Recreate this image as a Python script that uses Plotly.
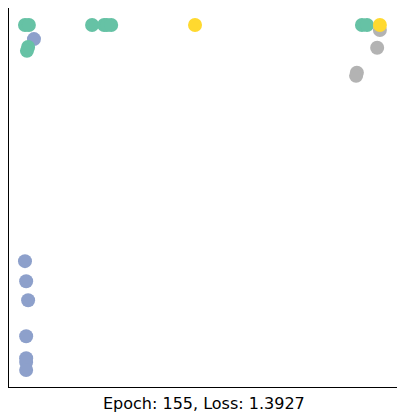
import plotly.graph_objects as go

# node embeddings (axis units 0..1)
teal_x = [0.041, 0.051, 0.049, 0.046, 0.213, 0.244, 0.251, 0.262, 0.905, 0.918]
teal_y = [0.955, 0.955, 0.897, 0.887, 0.955, 0.955, 0.955, 0.955, 0.955, 0.955]
blue_x = [0.064, 0.041, 0.044, 0.049, 0.044, 0.044, 0.044, 0.044]
blue_y = [0.918, 0.332, 0.279, 0.229, 0.134, 0.076, 0.066, 0.045]
yellow_x = [0.477, 0.951]
yellow_y = [0.955, 0.955]
gray_x = [0.951, 0.944, 0.892, 0.890]
gray_y = [0.942, 0.895, 0.829, 0.821]

groups = [
    (blue_x, blue_y, "#8da0cb"),
    (teal_x, teal_y, "#66c2a5"),
    (gray_x, gray_y, "#b3b3b3"),
    (yellow_x, yellow_y, "#ffd92f"),
]

fig = go.Figure()
for xs, ys, color in groups:
    fig.add_trace(go.Scatter(x=xs, y=ys, mode="markers",
                             marker=dict(size=14, color=color, line=dict(width=0))))

fig.update_xaxes(range=[0, 1], showticklabels=False, showgrid=False, zeroline=False,
                 showline=True, linecolor="black", linewidth=1, mirror=True, ticks="")
fig.update_yaxes(range=[0, 1], showticklabels=False, showgrid=False, zeroline=False,
                 showline=True, linecolor="black", linewidth=1, mirror=True, ticks="")

fig.add_annotation(text="Epoch: 155, Loss: 1.3927", xref="paper", yref="paper",
                   x=0.5, y=-0.012, xanchor="center", yanchor="top", showarrow=False,
                   font=dict(family="DejaVu Sans", size=16, color="black"))

# page body adds ~7px offset, so the figure is sized a bit smaller
fig.update_layout(width=398, height=406, showlegend=False,
                  margin=dict(l=1, r=7, t=0, b=27),
                  plot_bgcolor="white", paper_bgcolor="white")
fig.write_html("out.html")
